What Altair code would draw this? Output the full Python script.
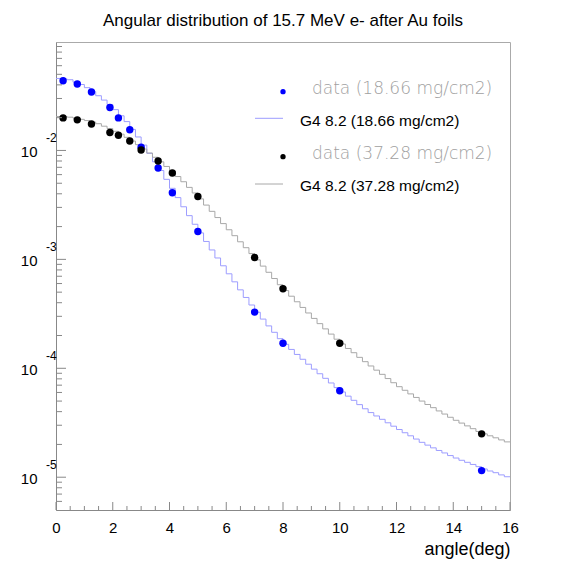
import altair as alt
import pandas as pd

# ---------------- data ----------------
bin_width = 0.2  # histogram bin width in degrees (80 bins from 0 to 16)

g4_1866 = [0.0458, 0.0452, 0.0446, 0.0424, 0.0403, 0.0377, 0.0346, 0.0318, 0.0290, 0.0264,
           0.0237, 0.0208, 0.0184, 0.0156, 0.0133, 0.0112, 0.00941, 0.00787, 0.00654, 0.00543,
           0.00449, 0.00369, 0.00304, 0.00252, 0.00210, 0.00175, 0.00146, 0.00122, 0.00103, 8.73e-4,
           7.37e-4, 6.22e-4, 5.25e-4, 4.47e-4, 3.81e-4, 3.27e-4, 2.83e-4, 2.45e-4, 2.14e-4, 1.87e-4,
           1.66e-4, 1.49e-4, 1.34e-4, 1.21e-4, 1.09e-4, 9.82e-5, 8.91e-5, 8.09e-5, 7.33e-5, 6.65e-5,
           6.06e-5, 5.55e-5, 5.08e-5, 4.64e-5, 4.25e-5, 3.92e-5, 3.65e-5, 3.40e-5, 3.16e-5, 2.94e-5,
           2.74e-5, 2.56e-5, 2.40e-5, 2.24e-5, 2.09e-5, 1.97e-5, 1.86e-5, 1.76e-5, 1.67e-5, 1.58e-5,
           1.50e-5, 1.43e-5, 1.37e-5, 1.31e-5, 1.25e-5, 1.19e-5, 1.14e-5, 1.10e-5, 1.05e-5, 1.01e-5]

g4_3728 = [0.0205, 0.0204, 0.0202, 0.0198, 0.0193, 0.0188, 0.0182, 0.0176, 0.0167, 0.0159,
           0.0150, 0.0141, 0.0132, 0.0122, 0.0113, 0.0103, 0.00947, 0.00866, 0.00786, 0.00713,
           0.00643, 0.00576, 0.00516, 0.00458, 0.00407, 0.00359, 0.00315, 0.00276, 0.00242, 0.00213,
           0.00187, 0.00165, 0.00145, 0.00128, 0.00113, 9.89e-4, 8.67e-4, 7.61e-4, 6.67e-4, 5.85e-4,
           5.17e-4, 4.59e-4, 4.08e-4, 3.62e-4, 3.22e-4, 2.87e-4, 2.57e-4, 2.30e-4, 2.06e-4, 1.85e-4,
           1.67e-4, 1.52e-4, 1.39e-4, 1.26e-4, 1.15e-4, 1.05e-4, 9.61e-5, 8.80e-5, 8.05e-5, 7.37e-5,
           6.78e-5, 6.28e-5, 5.82e-5, 5.40e-5, 5.00e-5, 4.65e-5, 4.35e-5, 4.06e-5, 3.80e-5, 3.55e-5,
           3.33e-5, 3.14e-5, 2.96e-5, 2.79e-5, 2.63e-5, 2.50e-5, 2.40e-5, 2.30e-5, 2.20e-5, 2.11e-5]

data_angle = [0.25, 0.75, 1.25, 1.9, 2.2, 2.6, 3.0, 3.6, 4.1, 5.0, 7.0, 8.0, 10.0, 15.0]
data_1866 = [0.0437, 0.0408, 0.0344, 0.0248, 0.0199, 0.0155, 0.0107, 0.00689, 0.00409,
             0.00180, 3.28e-4, 1.70e-4, 6.21e-5, 1.15e-5]
data_3728 = [0.0199, 0.0191, 0.0175, 0.0146, 0.0138, 0.0122, 0.0101, 0.0080, 0.0062,
             0.00378, 1.04e-3, 5.37e-4, 1.70e-4, 2.50e-5]

x_major = [0, 2, 4, 6, 8, 10, 12, 14, 16]
x_minor = [1, 3, 5, 7, 9, 11, 13, 15, 0.5, 1.5, 2.5, 3.5, 4.5, 5.5, 6.5, 7.5,
           8.5, 9.5, 10.5, 11.5, 12.5, 13.5, 14.5, 15.5]
y_major = [1e-2, 1e-3, 1e-4, 1e-5]
y_exp = ["-2", "-3", "-4", "-5"]
y_minor = [k * 10.0 ** e for e in (-6, -5, -4, -3, -2) for k in range(2, 10)
           if 5e-6 <= k * 10.0 ** e <= 0.099]

title_text = "Angular distribution of 15.7 MeV e- after Au foils"
legend_data_labels = ["data (18.66 mg/cm2)", "data (37.28 mg/cm2)"]
legend_g4_labels = ["G4 8.2 (18.66 mg/cm2)", "G4 8.2 (37.28 mg/cm2)"]

# ---------------- tables ----------------
def hist_table(vals):
    edges = [round(i * bin_width, 4) for i in range(len(vals) + 1)]
    return pd.DataFrame({"angle": edges, "value": list(vals) + [vals[-1]]})

h1 = hist_table(g4_1866)
h2 = hist_table(g4_3728)
d1 = pd.DataFrame({"angle": data_angle, "value": data_1866})
d2 = pd.DataFrame({"angle": data_angle, "value": data_3728})

W, H = 454, 468
FONT = "Liberation Sans"
AXC = "#888888"

x_scale = alt.Scale(domain=[0, 16], nice=False, zero=False)
y_scale = alt.Scale(type="log", domain=[5e-6, 0.099], nice=False)

x_axis = alt.Axis(values=x_major, labelFontSize=15, labelFont=FONT, labelColor="black",
                  ticks=False, tickSize=0, labelPadding=10, grid=False, domainColor=AXC,
                  labelFlush=False, labelOverlap=False, format="d",
                  title="angle(deg)", titleFont=FONT, titleFontSize=18,
                  titleFontWeight="normal", titleColor="black", titleX=W, titleY=44,
                  titleAlign="right", titleBaseline="alphabetic")
y_axis = alt.Axis(labels=False, ticks=False, grid=False, domainColor=AXC, title=None)


def X(field="angle"):
    return alt.X(f"{field}:Q", scale=x_scale, axis=x_axis)


def Y(field="value"):
    return alt.Y(f"{field}:Q", scale=y_scale, axis=y_axis)


layers = []

# histograms (step lines)
layers.append(alt.Chart(h1).mark_line(interpolate="step-after", color="#9d9dff", strokeWidth=1)
              .encode(x=X(), y=Y()))
layers.append(alt.Chart(h2).mark_line(interpolate="step-after", color="#a8a8a8", strokeWidth=1)
              .encode(x=X(), y=Y()))

# data points
layers.append(alt.Chart(d1).mark_circle(color="#0000ff", opacity=1, size=55)
              .encode(x=X(), y=Y()))
layers.append(alt.Chart(d2).mark_circle(color="#000000", opacity=1, size=55)
              .encode(x=X(), y=Y()))

# inward ticks (ROOT style)
ymaj = pd.DataFrame({"v": y_major, "e": y_exp})
ymin = pd.DataFrame({"v": y_minor})
xmaj = pd.DataFrame({"a": x_major})
xmin = pd.DataFrame({"a": x_minor})
layers.append(alt.Chart(ymaj).mark_rule(color=AXC, strokeWidth=1)
              .encode(y=Y("v"), x=alt.value(0), x2=alt.value(10)))
layers.append(alt.Chart(ymin).mark_rule(color=AXC, strokeWidth=1)
              .encode(y=Y("v"), x=alt.value(0), x2=alt.value(6)))
layers.append(alt.Chart(xmaj).mark_rule(color=AXC, strokeWidth=1)
              .encode(x=X("a"), y=alt.value(H), y2=alt.value(H - 8)))
layers.append(alt.Chart(xmin).mark_rule(color=AXC, strokeWidth=1)
              .encode(x=X("a"), y=alt.value(H), y2=alt.value(H - 4)))

# y tick labels: "10" with superscript exponent
layers.append(alt.Chart(ymaj).mark_text(align="right", baseline="middle", font=FONT,
                                         fontSize=15, color="black", dy=2)
              .encode(y=Y("v"), x=alt.value(-18.5), text=alt.value("10")))
layers.append(alt.Chart(ymaj).mark_text(align="left", baseline="middle", font=FONT,
                                         fontSize=12, color="black", dy=-12)
              .encode(y=Y("v"), x=alt.value(-10), text="e:N"))

# legend (inside the frame, top right)
def leg_text(txt, x, y, **kw):
    return (alt.Chart(pd.DataFrame({"t": [txt]}))
            .mark_text(align="left", baseline="alphabetic", **kw)
            .encode(text="t:N", x=alt.value(x), y=alt.value(y)))


def leg_dot(color, x, y):
    return (alt.Chart(pd.DataFrame({"t": [0]})).mark_circle(color=color, opacity=1, size=28)
            .encode(x=alt.value(x), y=alt.value(y)))


def leg_line(color, x1, x2, y):
    return (alt.Chart(pd.DataFrame({"t": [0]})).mark_rule(color=color, strokeWidth=1)
            .encode(x=alt.value(x1), x2=alt.value(x2), y=alt.value(y)))


data_style = dict(font="DejaVu Sans", fontSize=17, fontWeight=200, color="#a0a0a0")
g4_style = dict(font=FONT, fontSize=15.5, color="black")

layers += [
    leg_dot("#0000ff", 227, 49.7),
    leg_text(legend_data_labels[0], 256, 52, **data_style),
    leg_line("#9d9dff", 199, 227, 76.3),
    leg_text(legend_g4_labels[0], 244, 84.3, **g4_style),
    leg_dot("#000000", 227, 114.7),
    leg_text(legend_data_labels[1], 256, 117, **data_style),
    leg_line("#a8a8a8", 199, 227, 142),
    leg_text(legend_g4_labels[1], 244, 149.3, **g4_style),
]

chart = (alt.layer(*layers)
         .properties(width=W, height=H,
                     title=alt.TitleParams(text=title_text, font=FONT, fontSize=17,
                                           fontWeight="normal", color="black",
                                           anchor="middle", offset=12))
         .configure_view(stroke="#aaaaaa", strokeWidth=1)
         .properties(autosize=alt.AutoSizeParams(type="none"),
                     padding={"left": 48, "top": 34, "right": 40, "bottom": 50}))

chart.save("out.html", embed_options={"renderer": "svg", "actions": False})
